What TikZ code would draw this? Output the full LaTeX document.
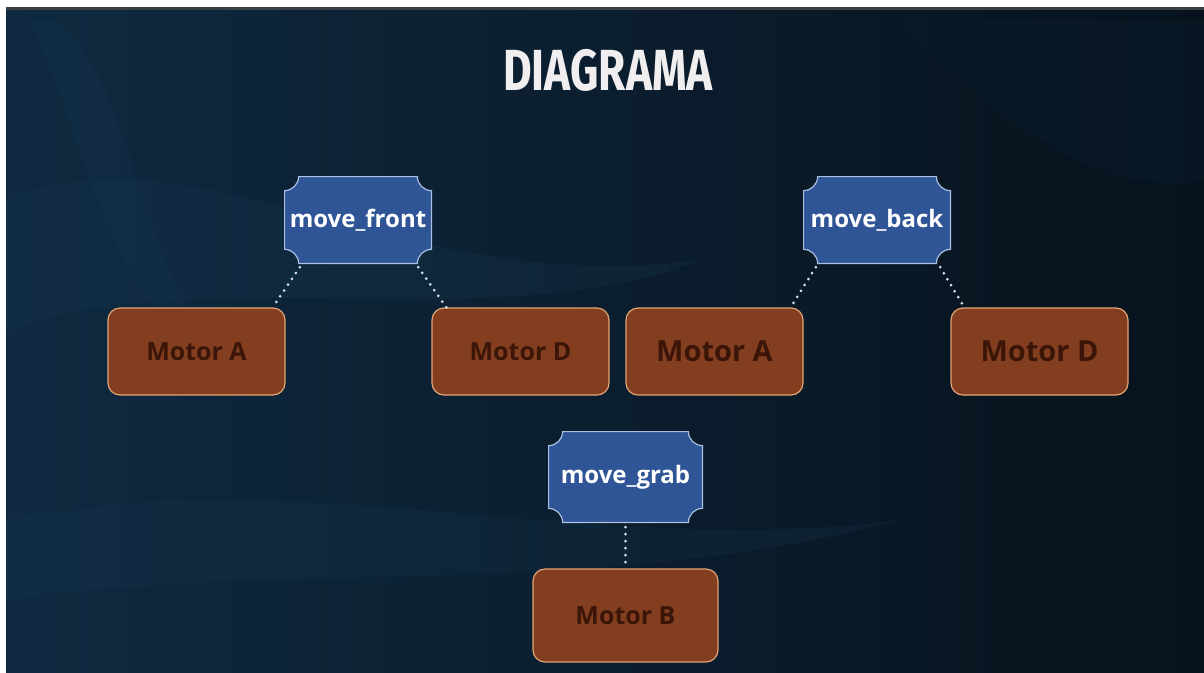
\documentclass[tikz,border=0pt]{standalone}
\usepackage{fontspec}
\setmainfont{Open Sans}
\newfontfamily\titlefont{Fira Sans}
\usetikzlibrary{calc}
\definecolor{bgA}{HTML}{0F2A41}
\definecolor{bgB}{HTML}{07121C}
\definecolor{bgC}{HTML}{0A1A2A}
\definecolor{blueF}{HTML}{2F5597}
\definecolor{blueB}{HTML}{A9C0E0}
\definecolor{brownF}{HTML}{823E1E}
\definecolor{brownB}{HTML}{E3A474}
\definecolor{brownT}{HTML}{3A1508}
\definecolor{dotC}{HTML}{D6DEE6}
\definecolor{titleC}{HTML}{F0EEEE}
\definecolor{topbar}{HTML}{3B4045}
\definecolor{streak}{HTML}{16364F}
\tikzset{
  ticket/.style={minimum width=#1, minimum height=88pt, inner sep=0pt,
    font=\bfseries\fontsize{24}{26}\selectfont, text=white,
    path picture={
      \filldraw[x=1pt, y=1pt, fill=blueF, draw=blueB, line width=1.2pt]
        let \p1=($(path picture bounding box.south west)+(0.6pt,0.6pt)$),
            \p2=($(path picture bounding box.north east)+(-0.6pt,-0.6pt)$) in
        (\x1+14pt,\y1) -- (\x2-14pt,\y1)
        arc[start angle=180,end angle=90,radius=14pt]
        -- (\x2,\y2-14pt)
        arc[start angle=270,end angle=180,radius=14pt]
        -- (\x1+14pt,\y2)
        arc[start angle=0,end angle=-90,radius=14pt]
        -- (\x1,\y1+14pt)
        arc[start angle=90,end angle=0,radius=14pt] -- cycle;
    }},
  motor/.style={draw=brownB, fill=brownF, line width=1.2pt, rounded corners=12pt,
    minimum width=177pt, minimum height=87pt, inner sep=0pt, text=brownT,
    font=\bfseries\fontsize{25}{28}\selectfont},
  motorbig/.style={motor, font=\bfseries\fontsize{29}{32}\selectfont},
  dots/.style={dotC, line width=3pt, line cap=round, dash pattern=on 0pt off 7pt},
}
\begin{document}
\begin{tikzpicture}[x=1pt,y=-1pt]
\useasboundingbox (0,0) rectangle (1204,672);
% frame
\fill[white] (0,0) rectangle (1204,672);
\fill[topbar] (6,7) rectangle (1204,10);
\shade[left color=bgA, right color=bgB] (6,10) rectangle (1204,672);
% faint texture
\fill[streak, opacity=0.3] (6,200) .. controls (200,120) and (400,300) .. (700,260) .. controls (500,340) and (200,260) .. (6,330) -- cycle;
\fill[streak, opacity=0.25] (6,520) .. controls (300,460) and (600,560) .. (900,520) .. controls (600,600) and (300,560) .. (6,600) -- cycle;
\fill[streak, opacity=0.25] (60,20) .. controls (150,120) and (120,250) .. (250,400) .. controls (100,300) and (90,150) .. (30,20) -- cycle;
\fill[bgC, opacity=0.6] (900,20) .. controls (1000,120) and (1100,200) .. (1204,180) -- (1204,20) -- cycle;
% title
\node[font=\titlefont\bfseries\fontsize{58}{60}\selectfont, text=titleC, xscale=0.76] (title) at (608,70) {DIAGRAMA};
% ticket nodes
\node[ticket=148pt] (mf) at (358,220) {\raisebox{-2.5pt}{move\_front}};
\node[ticket=148pt] (mbk) at (877,220) {\raisebox{-1pt}{move\_back}};
\node[ticket=155pt, minimum height=92pt] (mg) at (625.5,477) {\raisebox{-2pt}{move\_grab}};
% motors
\node[motor] (ma1) at (196.5,351.5) {Motor A};
\node[motor] (md1) at (520.5,351.5) {Motor D};
\node[motorbig] (ma2) at (714.5,351.5) {\raisebox{-2pt}{Motor A}};
\node[motorbig] (md2) at (1039.5,351.5) {Motor D};
\node[motor, minimum width=185pt, minimum height=93pt] (mB) at (625.5,615.5) {\raisebox{-2pt}{Motor B}};
% connectors
\draw[dots] ($(mf.south west)+(16,3)$) -- ($(ma1.north east)+(-13,0)$);
\draw[dots] ($(mf.south east)+(-14,3)$) -- ($(md1.north west)+(15,0)$);
\draw[dots] ($(mbk.south west)+(13,3)$) -- ($(ma2.north east)+(-13,0)$);
\draw[dots] ($(mbk.south east)+(-11,3)$) -- ($(md2.north west)+(14,0)$);
\draw[dots] ($(mg.south)+(0,4)$) -- (mB.north);
\end{tikzpicture}
\end{document}
